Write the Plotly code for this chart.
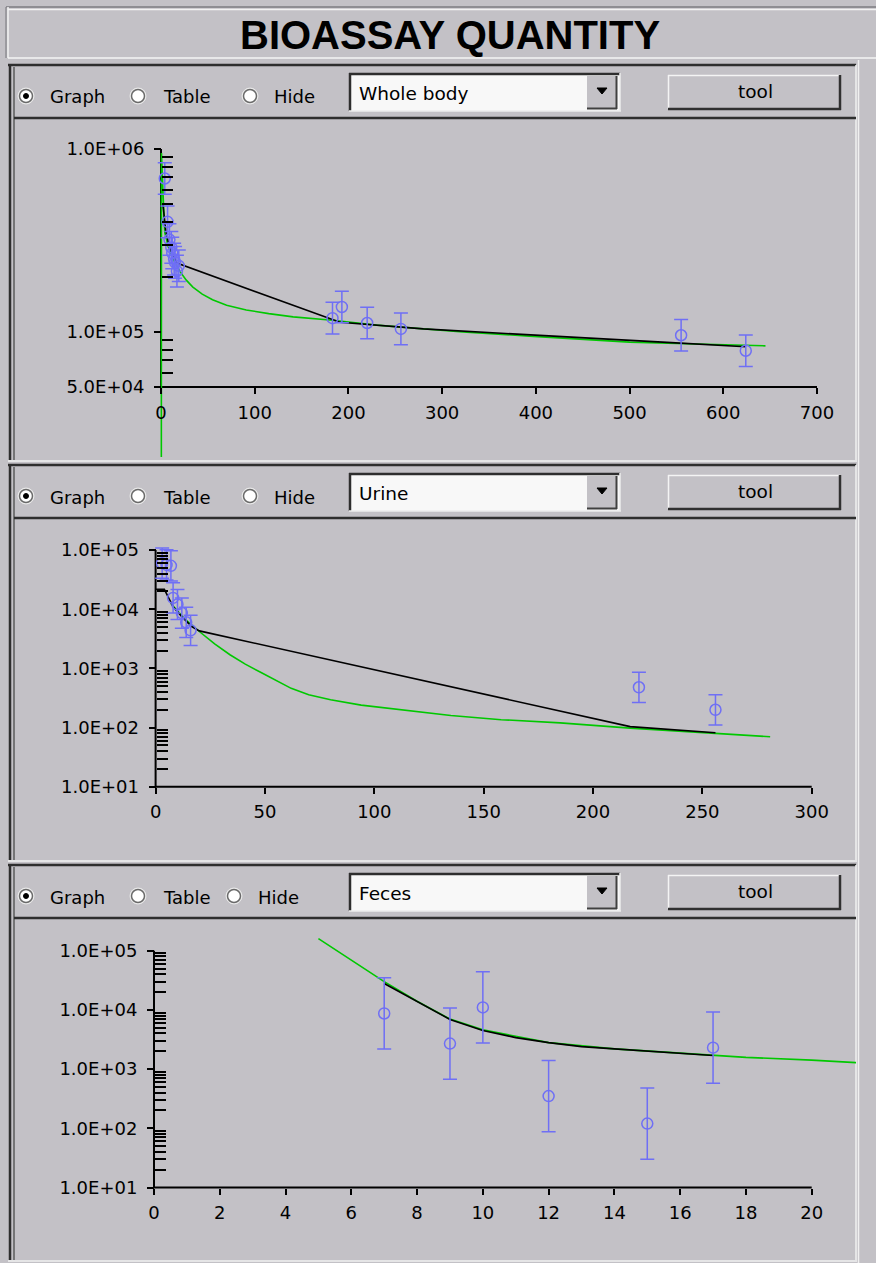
import math
import plotly.graph_objects as go

# ---------------- data ----------------
# Whole body (days, activity)
wb_days = [4, 7, 9, 11, 12, 14, 15, 17, 19, 183, 193, 220, 256, 555, 624]
wb_meas = [6.9e5, 4.0e5, 3.2e5, 2.9e5, 2.7e5, 2.5e5, 2.4e5, 2.15e5, 2.3e5,
           1.19e5, 1.37e5, 1.12e5, 1.04e5, 9.6e4, 7.9e4]
wb_fit_days = [2, 5, 9, 17, 191, 280, 535, 624]
wb_fit_vals = [5.0e5, 3.6e5, 2.9e5, 2.38e5, 1.13e5, 1.04e5, 8.8e4, 8.3e4]
wb_model_days = [0, 0.5, 2, 4, 8, 13, 20, 27, 34, 44, 55, 70, 91, 115, 141, 183, 230, 276,
                 322, 393, 500, 571, 645]
wb_model_vals = [1.0, 9.5e5, 6.0e5, 3.5e5, 2.9e5, 2.5e5, 2.15e5, 1.92e5, 1.76e5, 1.61e5,
                 1.5e5, 1.4e5, 1.32e5, 1.26e5, 1.21e5, 1.16e5, 1.09e5, 1.04e5, 1.0e5,
                 9.5e4, 8.8e4, 8.6e4, 8.4e4]
wb_gsd = 1.22

# Urine
ur_days = [3, 5, 7, 8, 10, 12, 14, 16, 221, 256]
ur_meas = [6.0e4, 5.6e4, 5.4e4, 1.55e4, 1.2e4, 8.6e3, 6.0e3, 4.4e3, 4.8e2, 2.0e2]
ur_fit_days = [0, 4, 8, 12, 16.5, 20, 217, 256]
ur_fit_vals = [2.17e4, 2.17e4, 1.1e4, 7.5e3, 5.1e3, 4.3e3, 1.04e2, 82]
ur_model_days = [7, 13, 20, 27, 34, 41, 48, 55, 62, 70, 80, 94, 112, 135, 158, 185, 217, 249, 281]
ur_model_vals = [1.25e4, 7.0e3, 4.2e3, 2.6e3, 1.7e3, 1.18e3, 8.6e2, 6.3e2, 4.6e2, 3.6e2,
                 2.95e2, 2.4e2, 2.0e2, 1.6e2, 1.36e2, 1.2e2, 98, 84, 70]
ur_gsd = 1.8

# Feces
fe_days = [7, 9, 10, 12, 15, 17]
fe_meas = [8.7e3, 2.7e3, 1.1e4, 3.5e2, 1.2e2, 2.3e3]
fe_fit_days = [7, 8, 9, 10, 11, 12, 13, 14, 15, 16, 17]
fe_fit_vals = [2.8e4, 1.4e4, 6.9e3, 4.5e3, 3.4e3, 2.8e3, 2.4e3, 2.2e3, 2.0e3, 1.85e3, 1.7e3]
fe_model_days = [5, 6, 7, 8, 9, 10, 12, 14, 16, 18, 20, 21.5]
fe_model_vals = [1.6e5, 7.0e4, 3.0e4, 1.4e4, 7.0e3, 4.6e3, 2.8e3, 2.2e3, 1.85e3, 1.58e3, 1.42e3, 1.27e3]
fe_gsd = 4.0

# axis ticks
wb_xticks = [0, 100, 200, 300, 400, 500, 600, 700]
wb_yticks = [5e4, 1e5, 1e6]
wb_ylabels = ["5.0E+04", "1.0E+05", "1.0E+06"]
ur_xticks = [0, 50, 100, 150, 200, 250, 300]
ur_yticks = [1e1, 1e2, 1e3, 1e4, 1e5]
ur_ylabels = ["1.0E+01", "1.0E+02", "1.0E+03", "1.0E+04", "1.0E+05"]
fe_xticks = [0, 2, 4, 6, 8, 10, 12, 14, 16, 18, 20]
fe_yticks = [1e1, 1e2, 1e3, 1e4, 1e5]
fe_ylabels = ["1.0E+01", "1.0E+02", "1.0E+03", "1.0E+04", "1.0E+05"]

panel_titles = ["Whole body", "Urine", "Feces"]

# ---------------- styling / geometry ----------------
W, H = 876, 1263
BG = "#c3c1c6"
DARK = "#2e2e2e"
GREEN = "#00c800"
BLUE = "#6f6ff5"
FONT = "DejaVu Sans"


def fx(p):
    return p / W


def fy(p):
    return 1 - p / H


# pixel geometry for each plotting area: x origin, px per unit, plot box, y scale
geom = [
    dict(x0=161, x1=817, xdom=(150, 822), ytop=149, ylog_top=6.0, ppd=183.0, ydom=(138, 457)),
    dict(x0=155.6, x1=811.7, xdom=(146, 822), ytop=550, ylog_top=5.0, ppd=59.2, ydom=(538, 800)),
    dict(x0=154, x1=811.7, xdom=(146, 856), ytop=950.7, ylog_top=5.0, ppd=59.2, ydom=(930, 1200)),
]

series = [
    (wb_days, wb_meas, wb_fit_days, wb_fit_vals, wb_model_days, wb_model_vals, wb_gsd,
     wb_xticks, wb_yticks, wb_ylabels),
    (ur_days, ur_meas, ur_fit_days, ur_fit_vals, ur_model_days, ur_model_vals, ur_gsd,
     ur_xticks, ur_yticks, ur_ylabels),
    (fe_days, fe_meas, fe_fit_days, fe_fit_vals, fe_model_days, fe_model_vals, fe_gsd,
     fe_xticks, fe_yticks, fe_ylabels),
]

fig = go.Figure()
layout = {}
shapes = []
annotations = []


def minor_ticks(lo, hi):
    out = []
    d = math.floor(math.log10(lo))
    while 10 ** d <= hi:
        for k in range(2, 10):
            v = k * 10 ** d
            if lo < v < hi:
                out.append(v)
        d += 1
    return out


for i, (g, s) in enumerate(zip(geom, series)):
    n = i + 1
    sfx = "" if n == 1 else str(n)
    (t, m, ft, fv, mt, mv, gsd, xt, yt, yl) = s
    xmax = xt[-1]
    ppu = (g["x1"] - g["x0"]) / xmax
    xr = [(g["xdom"][0] - g["x0"]) / ppu, (g["xdom"][1] - g["x0"]) / ppu]
    ylo_log = math.log10(yt[0])
    yr = [g["ylog_top"] - (g["ydom"][1] - g["ytop"]) / g["ppd"],
          g["ylog_top"] + (g["ytop"] - g["ydom"][0]) / g["ppd"]]
    xaxis_px_y = g["ytop"] + (g["ylog_top"] - ylo_log) * g["ppd"]

    layout["xaxis" + sfx] = dict(
        domain=[fx(g["xdom"][0]), fx(g["xdom"][1])], range=xr, anchor="free",
        position=fy(xaxis_px_y), tickvals=xt, ticks="outside", ticklen=6,
        tickwidth=1.5, tickcolor="black", showline=False, showgrid=False,
        zeroline=False, tickfont=dict(family=FONT, size=18, color="black"),
        ticklabelstandoff=3, automargin=False, fixedrange=True)
    layout["yaxis" + sfx] = dict(
        domain=[fy(g["ydom"][1]), fy(g["ydom"][0])], range=yr, type="log",
        anchor="free", position=fx(g["x0"]), tickvals=yt, ticktext=yl,
        ticks="outside", ticklen=7, tickwidth=1.5, tickcolor="black",
        minor=dict(tickvals=minor_ticks(yt[0], 10 ** g["ylog_top"]), ticks="inside",
                   ticklen=11, tickwidth=1.5, tickcolor="black", showgrid=False),
        showline=False, showgrid=False, zeroline=False,
        tickfont=dict(family=FONT, size=18, color="black"),
        ticklabelstandoff=6, automargin=False, fixedrange=True)
    # long inner marks on interior decades
    layout["yaxis" + str(n + 3)] = dict(
        overlaying="y" + sfx, range=yr, type="log", anchor="free",
        position=fx(g["x0"]), tickvals=yt[1:-1], ticks="inside", ticklen=19,
        tickwidth=1.5, tickcolor="black", showticklabels=False, showline=False,
        showgrid=False, zeroline=False, automargin=False, fixedrange=True)

    # axis lines (span the labelled range only)
    shapes.append(dict(type="line", xref="x" + sfx, yref="paper", x0=0, x1=xmax,
                       y0=fy(xaxis_px_y), y1=fy(xaxis_px_y),
                       line=dict(color="black", width=2), layer="below"))
    shapes.append(dict(type="line", xref="paper", yref="paper", x0=fx(g["x0"]),
                       x1=fx(g["x0"]), y0=fy(xaxis_px_y), y1=fy(g["ytop"]),
                       line=dict(color="black", width=2), layer="below"))

    xa, ya = "x" + sfx, "y" + sfx
    fig.add_trace(go.Scatter(x=mt, y=mv, mode="lines", xaxis=xa, yaxis=ya,
                             line=dict(color=GREEN, width=1.6), hoverinfo="skip"))
    fig.add_trace(go.Scatter(x=ft, y=fv, mode="lines", xaxis=xa, yaxis=ya,
                             line=dict(color="black", width=1.6), hoverinfo="skip"))
    hi = [v * (gsd - 1) for v in m]
    lo = [v * (1 - 1 / gsd) for v in m]
    fig.add_trace(go.Scatter(
        x=t, y=m, mode="markers", xaxis=xa, yaxis=ya,
        marker=dict(symbol="circle-open", size=11, color=BLUE, line=dict(width=1.5, color=BLUE)),
        error_y=dict(type="data", symmetric=False, array=hi, arrayminus=lo,
                     color=BLUE, thickness=1.5, width=7)))

# ---------------- window chrome ----------------
def rect(x0, y0, x1, y1, fill=None, color=None, width=0):
    d = dict(type="rect", xref="paper", yref="paper", x0=fx(x0), x1=fx(x1),
             y0=fy(y1), y1=fy(y0), layer="below")
    d["fillcolor"] = fill if fill else "rgba(0,0,0,0)"
    d["line"] = dict(color=color if color else "rgba(0,0,0,0)", width=width)
    return d


def hline(x0, x1, y, color, width=1.5):
    return dict(type="line", xref="paper", yref="paper", x0=fx(x0), x1=fx(x1),
                y0=fy(y), y1=fy(y), line=dict(color=color, width=width), layer="below")


def vline(x, y0, y1, color, width=1.5):
    return dict(type="line", xref="paper", yref="paper", x0=fx(x), x1=fx(x),
                y0=fy(y0), y1=fy(y1), line=dict(color=color, width=width), layer="below")


def text(x, y, s, size=18, anchor="left", family=FONT, bold=False):
    return dict(xref="paper", yref="paper", x=fx(x), y=fy(y), text=s, showarrow=False,
                xanchor=anchor, yanchor="middle",
                font=dict(family=family, size=size, color="black",
                          weight="bold" if bold else "normal"))


# title bar
shapes += [hline(6, 876, 7, "#8e8d92", 2), hline(8, 876, 9.5, "#f2f2f2", 1.5),
           vline(8, 7, 58, "#f2f2f2", 1.5), vline(6, 7, 58, "#8e8d92", 1.5),
           hline(8, 876, 58, "#f4f4f4", 1.5)]
annotations.append(text(450, 35, "BIOASSAY QUANTITY", size=40, anchor="center",
                        family="Liberation Sans", bold=True))

# right-hand strip
shapes.append(vline(858.5, 60, 1263, "#f0f0f0", 1.5))

for i, title in enumerate(panel_titles):
    top = 65 + 400 * i
    bot = top + 395
    # frame
    shapes += [hline(8, 856, top, DARK, 2.5), vline(10, top, bot, DARK, 2.5),
               vline(14, top + 2, bot, "#5a5a5a", 1.5), vline(856, top, bot, "#f0f0f0", 1.5),
               hline(8, 857, bot + 1, "#f0f0f0", 1.5), hline(14, 856, top + 53, DARK, 2.5)]
    cy = top + 31
    # radio buttons
    rx = [26, 138, 250 if i < 2 else 234]
    for k, x in enumerate(rx):
        shapes.append(dict(type="circle", xref="paper", yref="paper", x0=fx(x - 8), x1=fx(x + 8),
                           y0=fy(cy + 8), y1=fy(cy - 8), fillcolor="#f4f4f4",
                           line=dict(color="#e8e8e8", width=1), layer="below"))
        shapes.append(dict(type="circle", xref="paper", yref="paper", x0=fx(x - 6.5), x1=fx(x + 6.5),
                           y0=fy(cy + 6.5), y1=fy(cy - 6.5), fillcolor="white",
                           line=dict(color="#6a6a6a", width=1.5), layer="below"))
        if k == 0:
            shapes.append(dict(type="circle", xref="paper", yref="paper", x0=fx(x - 2.5),
                               x1=fx(x + 2.5), y0=fy(cy + 2.5), y1=fy(cy - 2.5),
                               fillcolor="black", line=dict(color="black", width=1), layer="below"))
    annotations += [text(48, cy + 1, "Graph"), text(161, cy + 1, "Table"),
                    text(272 if i < 2 else 256, cy + 1, "Hide")]
    # drop-down list
    shapes += [rect(349, top + 8, 620, top + 46, fill="#f8f8f8"),
               hline(349, 620, top + 9, DARK, 2.5), vline(350, top + 8, top + 46, DARK, 2.5),
               hline(349, 621, top + 46, "#ececec", 1.5), vline(620, top + 8, top + 46, "#ececec", 1.5),
               rect(587, top + 11, 617, top + 44, fill=BG),
               hline(587, 617, top + 43.5, "#404040", 2), vline(616.5, top + 11, top + 44, "#404040", 2),
               dict(type="path", xref="paper", yref="paper", layer="below",
                    path="M {} {} L {} {} L {} {} Z".format(fx(597), fy(top + 23), fx(607), fy(top + 23),
                                                            fx(602), fy(top + 29)),
                    fillcolor="black", line=dict(color="black", width=1))]
    annotations.append(text(357, top + 28, title, size=18.5))
    # tool button
    shapes += [rect(668, top + 10, 840, top + 44, fill=BG),
               hline(668, 840, top + 10.5, "#f4f4f4", 1.5), vline(668.5, top + 10, top + 44, "#f4f4f4", 1.5),
               hline(668, 841, top + 44, "#303030", 2.5), vline(840, top + 10, top + 45, "#303030", 2.5)]
    annotations.append(text(755, top + 27, "tool", size=18.5, anchor="center"))

layout.update(dict(
    width=W, height=H, margin=dict(l=0, r=0, t=0, b=0, pad=0, autoexpand=False), autosize=False,
    paper_bgcolor=BG, plot_bgcolor="rgba(0,0,0,0)", showlegend=False,
    shapes=shapes, annotations=annotations))
fig.update_layout(**layout)
fig.write_html(
    "out.html",
    config={"responsive": False, "displayModeBar": False},
    post_script="document.documentElement.style.overflow='hidden';"
                "document.body.style.overflow='hidden';document.body.style.margin='0';")
